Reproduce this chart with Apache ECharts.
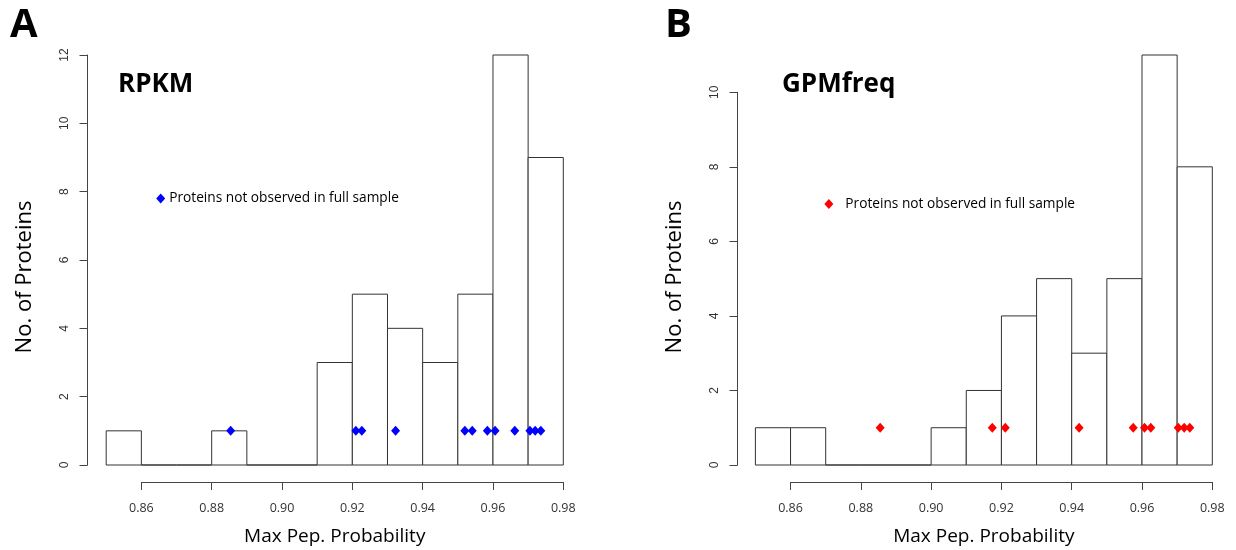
<!DOCTYPE html>
<html>
<head>
<meta charset="utf-8">
<script src="https://cdn.jsdelivr.net/npm/echarts@6/dist/echarts.min.js"></script>
<style>
  html, body { margin: 0; padding: 0; background: #fff; }
  #chart { width: 1236px; height: 550px; }
</style>
</head>
<body>
<div id="chart"></div>
<script>
// Histogram bin edges shared by both panels
const binEdges = [0.85, 0.86, 0.87, 0.88, 0.89, 0.90, 0.91, 0.92, 0.93, 0.94, 0.95, 0.96, 0.97, 0.98];

// Protein counts per bin
const countsRPKM    = [1, 0, 0, 1, 0, 0, 3, 5, 4, 3, 5, 12, 9];
const countsGPMfreq = [1, 1, 0, 0, 0, 1, 2, 4, 5, 3, 5, 11, 8];

// Max peptide probabilities of proteins not observed in the full sample (each drawn at count 1)
const missingRPKM    = [0.8854, 0.9210, 0.9227, 0.9323, 0.9520, 0.9541, 0.9584, 0.9606, 0.9662, 0.9705, 0.9720, 0.9736];
const missingGPMfreq = [0.8855, 0.9174, 0.9211, 0.9421, 0.9575, 0.9607, 0.9625, 0.9703, 0.9720, 0.9736];
const missingLevel = 1;

// In-plot legend marker positions (data coordinates)
const keyRPKM    = [0.8655, 7.8];
const keyGPMfreq = [0.8709, 7.0];
const keyText = 'Proteins not observed in full sample';

// Axis tick values
const xTicks  = [0.86, 0.88, 0.90, 0.92, 0.94, 0.96, 0.98];
const yTicksA = [0, 2, 4, 6, 8, 10, 12];
const yTicksB = [0, 2, 4, 6, 8, 10];

const W = 1236, H = 550;
const titleFont = '"Open Sans", "DejaVu Sans", sans-serif';
const tickFontY = '"Liberation Sans", Arial, sans-serif';

// Plot-region geometry for each panel (pixels)
const panels = [
  { name: 'RPKM',    tag: 'A', counts: countsRPKM,    missing: missingRPKM,    key: keyRPKM,    keyGap: 4,
    color: '#0000ff', plotL: 106.2, plotR: 563.3, yMax: 12, yTicks: yTicksA, yAxisX: 87.5,
    tagX: 10, titleX: 118 },
  { name: 'GPMfreq', tag: 'B', counts: countsGPMfreq, missing: missingGPMfreq, key: keyGPMfreq, keyGap: 12,
    color: '#ff0000', plotL: 755.4, plotR: 1212.3, yMax: 11, yTicks: yTicksB, yAxisX: 737.5,
    tagX: 665, titleX: 782 }
];
const plotTop = 55, plotBottom = 465, xAxisY = 482;

function histItem(params, api) {
  const p0 = api.coord([api.value(0), api.value(2)]);
  const p1 = api.coord([api.value(1), 0]);
  return {
    type: 'rect',
    shape: { x: p0[0], y: p0[1], width: p1[0] - p0[0], height: p1[1] - p0[1] },
    style: { fill: '#ffffff', stroke: '#333333', lineWidth: 1 }
  };
}

const grid = [], xAxis = [], yAxis = [], series = [], graphic = [];

panels.forEach((p, i) => {
  const pxPerX = (p.plotR - p.plotL) / (binEdges[binEdges.length - 1] - binEdges[0]);
  const pxPerY = (plotBottom - plotTop) / p.yMax;
  const yTop = p.yTicks[p.yTicks.length - 1];
  const g0 = grid.length;

  // main plotting grid (axes hidden)
  grid.push({ left: p.plotL, width: p.plotR - p.plotL, top: plotTop, height: plotBottom - plotTop });
  xAxis.push({ gridIndex: g0, type: 'value', min: binEdges[0], max: binEdges[binEdges.length - 1], show: false });
  yAxis.push({ gridIndex: g0, type: 'value', min: 0, max: p.yMax, show: false });

  // detached x axis spanning the first to last tick
  const xl = p.plotL + (xTicks[0] - binEdges[0]) * pxPerX;
  const xr = p.plotL + (xTicks[xTicks.length - 1] - binEdges[0]) * pxPerX;
  grid.push({ left: xl, width: xr - xl, top: xAxisY - 1, height: 1 });
  xAxis.push({
    gridIndex: g0 + 1, type: 'value', min: xTicks[0], max: xTicks[xTicks.length - 1],
    interval: xTicks[1] - xTicks[0], position: 'bottom',
    axisLine: { show: true, lineStyle: { color: '#444', width: 1 } },
    axisTick: { show: true, length: 8, lineStyle: { color: '#444', width: 1 } },
    splitLine: { show: false },
    axisLabel: { show: true, margin: 20, color: '#333', fontFamily: titleFont, fontSize: 12.5,
      formatter: v => v.toFixed(2), showMinLabel: true, showMaxLabel: true }
  });
  yAxis.push({ gridIndex: g0 + 1, type: 'value', min: 0, max: 1, show: false });

  // detached y axis spanning the first to last tick
  const yt = plotBottom - yTop * pxPerY;
  grid.push({ left: p.yAxisX, width: 1, top: yt, height: plotBottom - yt });
  xAxis.push({ gridIndex: g0 + 2, type: 'value', min: 0, max: 1, show: false });
  yAxis.push({
    gridIndex: g0 + 2, type: 'value', min: p.yTicks[0], max: yTop,
    interval: p.yTicks[1] - p.yTicks[0], position: 'left',
    axisLine: { show: true, lineStyle: { color: '#444', width: 1 } },
    axisTick: { show: true, length: 8, lineStyle: { color: '#444', width: 1 } },
    splitLine: { show: false },
    axisLabel: { show: true, rotate: 90, margin: 17, color: '#333', fontFamily: tickFontY, fontSize: 12,
      showMinLabel: true, showMaxLabel: true }
  });

  // histogram bars
  const bins = p.counts.map((c, k) => [binEdges[k], binEdges[k + 1], c]);
  series.push({
    type: 'custom', xAxisIndex: g0, yAxisIndex: g0, renderItem: histItem,
    encode: { x: [0, 1], y: 2 }, data: bins, z: 2, silent: true
  });

  // proteins not observed in the full sample
  series.push({
    type: 'scatter', xAxisIndex: g0, yAxisIndex: g0, symbol: 'diamond', symbolSize: [9, 10],
    itemStyle: { color: p.color, opacity: 1 }, data: p.missing.map(v => [v, missingLevel]), z: 5, silent: true
  });

  // in-plot key
  series.push({
    type: 'scatter', xAxisIndex: g0, yAxisIndex: g0, symbol: 'diamond', symbolSize: [9, 10],
    itemStyle: { color: p.color, opacity: 1 }, data: [p.key], z: 5, silent: true,
    label: { show: true, position: 'right', distance: p.keyGap, formatter: keyText,
      color: '#000', fontFamily: titleFont, fontSize: 13.7 }
  });

  // panel tag, panel title and axis titles
  graphic.push({ type: 'text', left: p.tagX, top: 6,
    style: { text: p.tag, font: 'bold 40px ' + titleFont, fill: '#000' } });
  graphic.push({ type: 'text', x: p.titleX, y: 85,
    style: { text: p.name, font: 'bold 26px ' + titleFont, fill: '#000', verticalAlign: 'middle' } });
  graphic.push({ type: 'text', x: (p.plotL + p.plotR) / 2, y: 537,
    style: { text: 'Max Pep. Probability', font: '19px ' + titleFont, fill: '#000',
      align: 'center', verticalAlign: 'middle' } });
  graphic.push({ type: 'text', x: p.yAxisX - 63, y: 277, rotation: Math.PI / 2,
    style: { text: 'No. of Proteins', font: '22px ' + titleFont, fill: '#000',
      align: 'center', verticalAlign: 'middle' } });
});

const chart = echarts.init(document.getElementById('chart'), null, { renderer: 'canvas', width: W, height: H });
chart.setOption({
  backgroundColor: '#ffffff',
  animation: false,
  grid, xAxis, yAxis, series, graphic
});
</script>
</body>
</html>
